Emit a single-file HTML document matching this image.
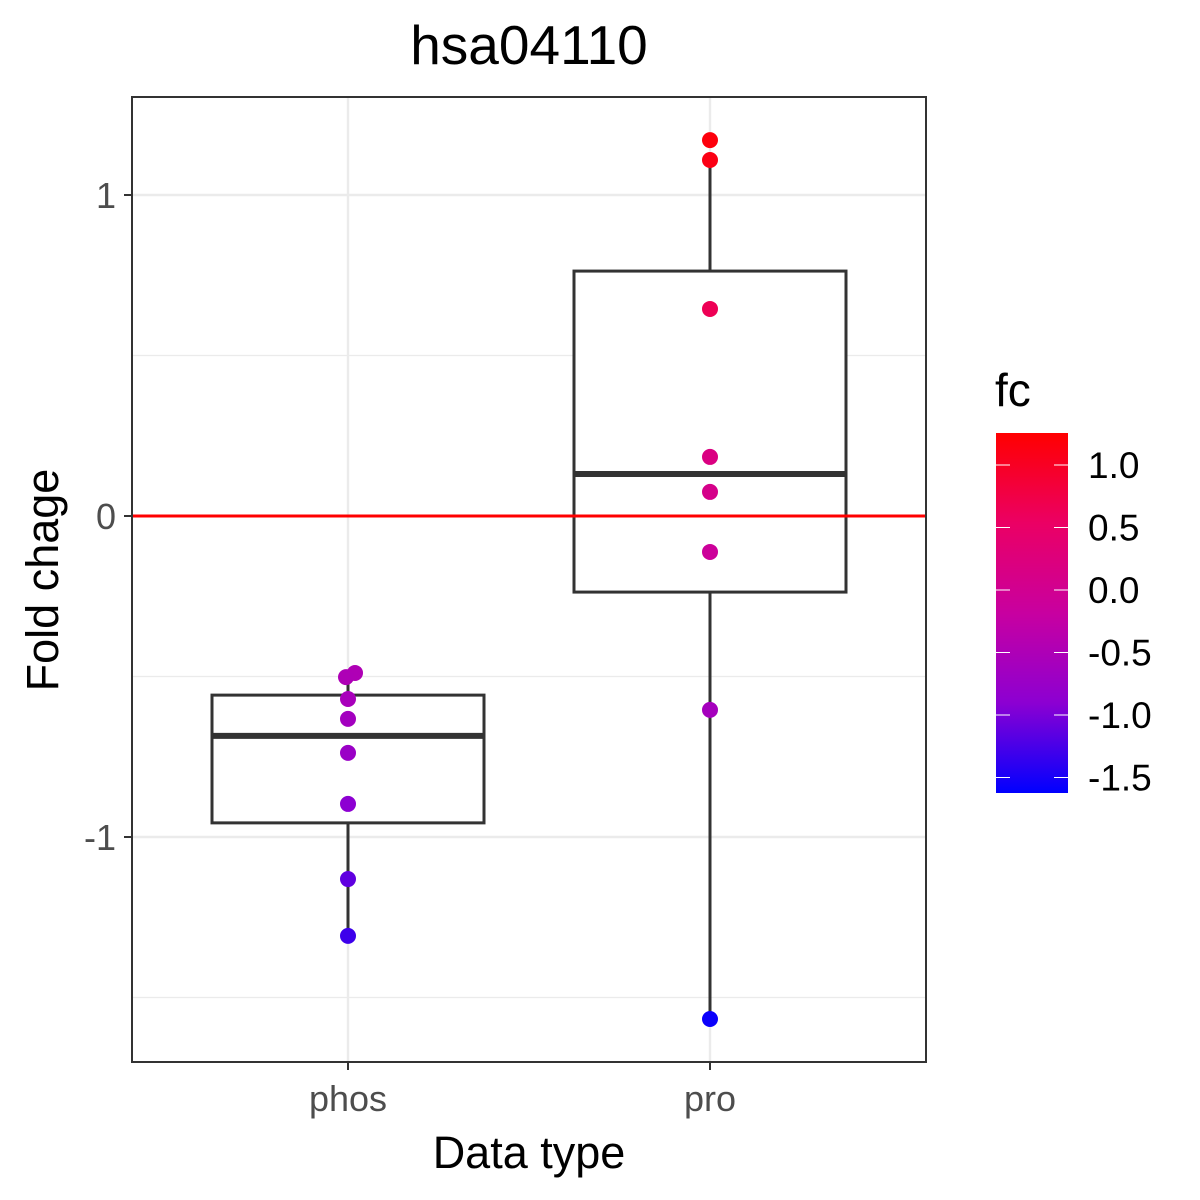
<!DOCTYPE html>
<html><head><meta charset="utf-8"><style>body{margin:0;background:#fff}svg{display:block;font-family:"Liberation Sans",Arial,sans-serif}</style></head>
<body>
<svg id="chart" width="1200" height="1200" viewBox="0 0 1200 1200">
<defs><linearGradient id="fcgrad" x1="0" y1="1" x2="0" y2="0">
<stop offset="0" stop-color="#0000FF"/><stop offset="0.25" stop-color="#8C00D2"/><stop offset="0.5" stop-color="#C800A0"/><stop offset="0.75" stop-color="#EB0064"/><stop offset="1" stop-color="#FF0000"/></linearGradient></defs>
<rect x="0" y="0" width="1200" height="1200" fill="#fff"/>
<g id="grid"></g>
<g id="marks"></g>
<rect x="132" y="97" width="794" height="965" fill="none" stroke="#333" stroke-width="2"/>
<g id="axes"></g>
<text x="529" y="64" font-size="55" text-anchor="middle">hsa04110</text>
<text x="529" y="1168" font-size="45" text-anchor="middle">Data type</text>
<text transform="translate(58,580) rotate(-90)" font-size="45" text-anchor="middle">Fold chage</text>
<g>
<text x="995" y="406" font-size="46">fc</text>
<rect x="996" y="433" width="72" height="360" fill="url(#fcgrad)"/>
<g id="legend-ticks"></g>
</g>
</svg>
<script>
const categories = ["phos", "pro"];
const phosValues = [-0.489, -0.502, -0.570, -0.632, -0.738, -0.897, -1.131, -1.308];
const proValues = [1.171, 1.109, 0.645, 0.184, 0.075, -0.112, -0.604, -1.567];
const boxLower = [-0.956, -0.237];
const boxMedian = [-0.685, 0.131];
const boxUpper = [-0.558, 0.763];
const whiskerLow = [-1.308, -1.567];
const whiskerHigh = [-0.489, 1.109];
const yTicks = [-1, 0, 1];
const yTickLabels = ["-1", "0", "1"];
const yMinor = [-1.5, -0.5, 0.5];
const legendTicks = [1.0, 0.5, 0.0, -0.5, -1.0, -1.5];
const legendLabels = ["1.0", "0.5", "0.0", "-0.5", "-1.0", "-1.5"];
const jitter = [[7,-2,0,0,0,0,0,0],[0,0,0,0,0,0,0,0]];

const NS = "http://www.w3.org/2000/svg";
function y(v){return 516 - 321*v;}
function x(i){return 348 + i*362;}
function ly(v){return 590 - 125*v;}
function fcColor(v){
  const t = Math.max(0, Math.min(1, (v + 1.624) / 2.88));
  const stops = [[0,[0,0,255]],[0.25,[140,0,210]],[0.5,[200,0,160]],[0.75,[235,0,100]],[1,[255,0,0]]];
  for (let k=0;k<stops.length-1;k++){
    const [a,ca]=stops[k],[b,cb]=stops[k+1];
    if(t<=b){const u=(t-a)/(b-a);return "rgb("+ca.map((c,j)=>Math.round(c+(cb[j]-c)*u)).join(",")+")";}
  }
  return "rgb(255,0,0)";
}
function mk(tag, attrs, parent){
  const el = document.createElementNS(NS, tag);
  for (const k in attrs) el.setAttribute(k, attrs[k]);
  parent.appendChild(el); return el;
}
const grid = document.getElementById("grid");
const marks = document.getElementById("marks");
const axes = document.getElementById("axes");

yMinor.forEach(v=>{
  const l = mk("line",{x1:132,x2:926,y1:y(v),y2:y(v),stroke:"#ebebeb","stroke-width":1.2},grid);
  
  
});
yTicks.forEach(v=>{
  const l = mk("line",{x1:132,x2:926,y1:y(v),y2:y(v),stroke:"#ebebeb","stroke-width":2.4},grid);
  
  
});
categories.forEach((c,i)=>{
  const l = mk("line",{x1:x(i),x2:x(i),y1:97,y2:1062,stroke:"#ebebeb","stroke-width":2.4},grid);
  
  
});

const zero = mk("line",{x1:132,x2:926,y1:y(0),y2:y(0),stroke:"#FF0000","stroke-width":3},marks);



categories.forEach((c,i)=>{
  const g = mk("g",{},marks);
  
  
  const w1 = mk("line",{x1:x(i),x2:x(i),y1:y(whiskerHigh[i]),y2:y(boxUpper[i]),stroke:"#333","stroke-width":3},g);
  
  
  const w2 = mk("line",{x1:x(i),x2:x(i),y1:y(boxLower[i]),y2:y(whiskerLow[i]),stroke:"#333","stroke-width":3},g);
  
  
  const r = mk("rect",{x:x(i)-136,width:272,y:y(boxUpper[i]),height:y(boxLower[i])-y(boxUpper[i]),fill:"#fff",stroke:"#333","stroke-width":3},g);
  
  
  const m = mk("line",{x1:x(i)-136,x2:x(i)+136,y1:y(boxMedian[i]),y2:y(boxMedian[i]),stroke:"#333","stroke-width":6},g);
  
  
});
const zero2 = mk("line",{x1:132,x2:926,y1:y(0),y2:y(0),stroke:"#FF0000","stroke-width":3},marks);



[phosValues, proValues].forEach((vals,i)=>{
  vals.forEach((v,k)=>{
    const p = mk("circle",{cx:x(i)+jitter[i][k],cy:y(v),r:8,fill:fcColor(v)},marks);
    
    
  });
});

yTicks.forEach((v,k)=>{
  const t = mk("line",{x1:124,x2:132,y1:y(v),y2:y(v),stroke:"#333","stroke-width":2},axes);
  
  
  const tx = mk("text",{x:116,y:y(v)+13,"font-size":36,"text-anchor":"end",fill:"#4d4d4d"},axes);
  tx.textContent = yTickLabels[k];
  
  
});
categories.forEach((c,i)=>{
  const t = mk("line",{x1:x(i),x2:x(i),y1:1062,y2:1070,stroke:"#333","stroke-width":2},axes);
  
  
  const tx = mk("text",{x:x(i),y:1111,"font-size":36,"text-anchor":"middle",fill:"#4d4d4d"},axes);
  tx.textContent = c;
  
  
});
const lt = document.getElementById("legend-ticks");
legendTicks.forEach((v,k)=>{
  const a = mk("line",{x1:996,x2:1010,y1:ly(v),y2:ly(v),stroke:"#fff","stroke-width":1},lt);
  
  
  const b = mk("line",{x1:1054,x2:1068,y1:ly(v),y2:ly(v),stroke:"#fff","stroke-width":1},lt);
  
  
  const tx = mk("text",{x:1088,y:ly(v)+13,"font-size":37,fill:"#000"},lt);
  tx.textContent = legendLabels[k];
  
  
});
</script>
</body></html>
